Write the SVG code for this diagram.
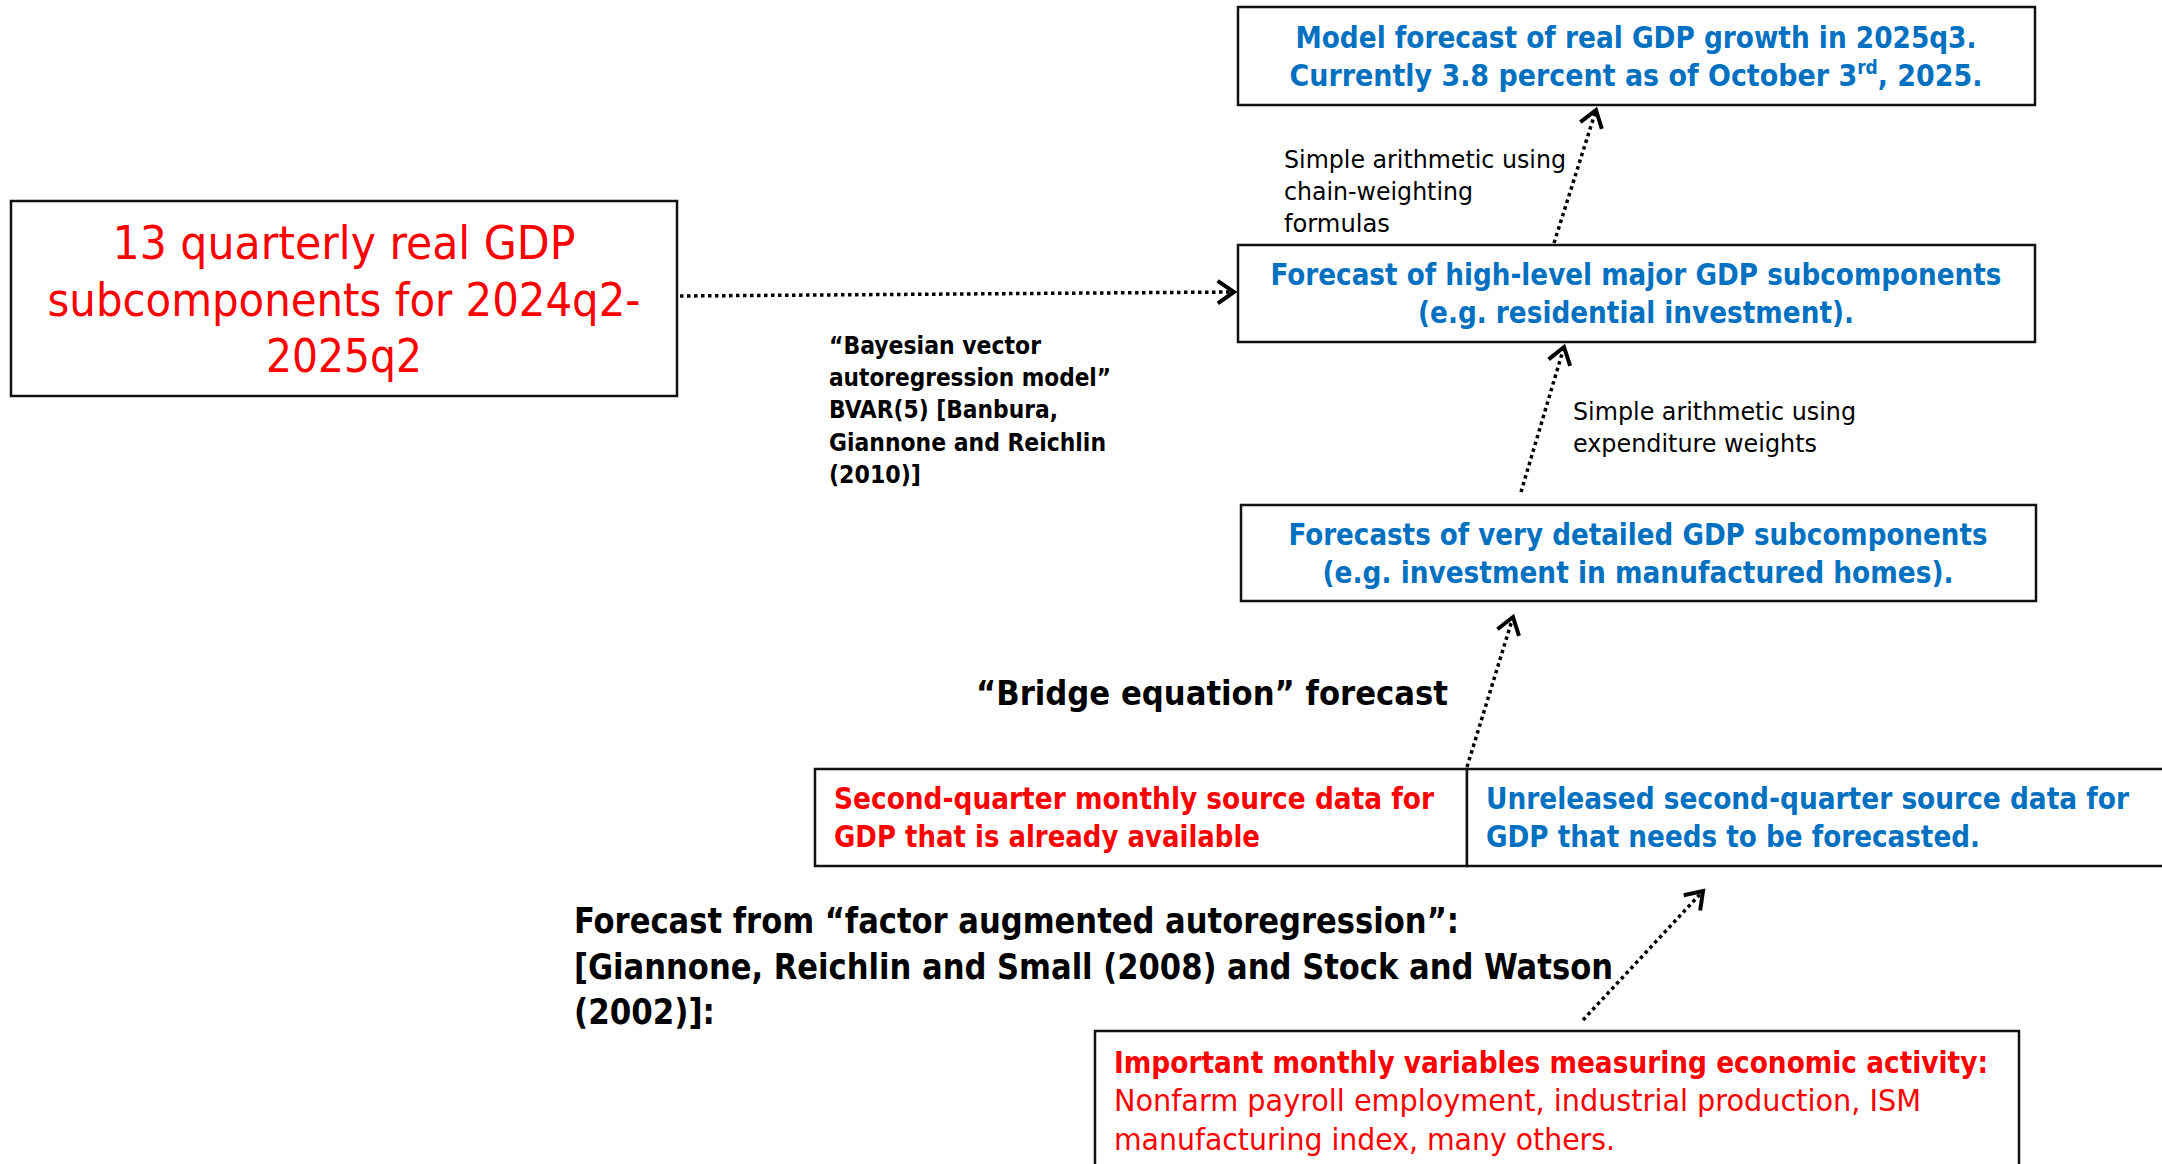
<svg xmlns="http://www.w3.org/2000/svg" width="2162" height="1164" viewBox="0 0 2162 1164">
<defs>
<marker id="arr" markerUnits="userSpaceOnUse" markerWidth="30" markerHeight="30" viewBox="-16 -12 20 24" refX="0" refY="0" orient="auto">
<path d="M-13,-9 L0,0 L-13,9" fill="none" stroke="#000" stroke-width="3.2" stroke-linejoin="miter"/>
</marker>
<style>
.box{fill:#fff;stroke:#111;stroke-width:2.5}
.t{font-family:'DejaVu Sans Condensed','DejaVu Sans',sans-serif;}
.b{font-weight:bold}
.blue{fill:#0070C0}
.red{fill:#FF0000}
.blk{fill:#000}
.c{text-anchor:middle}
.conn{fill:none;stroke:#000;stroke-width:3.5;stroke-dasharray:3.5 3.5;marker-end:url(#arr)}
</style>
</defs>
<rect width="2162" height="1164" fill="#fff"/>

<g id="connectors">
<path class="conn" d="M680,296 L1234,292"/>
<path class="conn" d="M1554,243 L1596,110"/>
<path class="conn" d="M1521,492 L1564,347"/>
<path class="conn" d="M1467,767 L1513,617"/>
<path class="conn" d="M1583,1020 L1703,891"/>
</g>

<g id="node-forecast-total">
<rect class="box" x="1238" y="7" width="797" height="98"/>
<text class="t b blue c" font-size="30" x="1636" y="48" textLength="681" lengthAdjust="spacingAndGlyphs">Model forecast of real GDP growth in 2025q3.</text>
<text class="t b blue c" font-size="30" x="1636" y="86" textLength="693" lengthAdjust="spacingAndGlyphs">Currently 3.8 percent as of October 3<tspan font-size="19" dy="-12">rd</tspan><tspan dy="12">, 2025.</tspan></text>
</g>

<g id="node-quarterly">
<rect class="box" x="11" y="201" width="666" height="195"/>
<text class="t red c" font-size="46" x="344" y="259" textLength="463" lengthAdjust="spacingAndGlyphs">13 quarterly real GDP</text>
<text class="t red c" font-size="46" x="344" y="316" textLength="593" lengthAdjust="spacingAndGlyphs">subcomponents for 2024q2-</text>
<text class="t red c" font-size="46" x="344" y="372" textLength="156" lengthAdjust="spacingAndGlyphs">2025q2</text>
</g>

<g id="node-highlevel">
<rect class="box" x="1238" y="245" width="797" height="97"/>
<text class="t b blue c" font-size="30" x="1636" y="285" textLength="731" lengthAdjust="spacingAndGlyphs">Forecast of high-level major GDP subcomponents</text>
<text class="t b blue c" font-size="30" x="1636" y="323" textLength="436" lengthAdjust="spacingAndGlyphs">(e.g. residential investment).</text>
</g>

<g id="node-detailed">
<rect class="box" x="1241" y="505" width="795" height="96"/>
<text class="t b blue c" font-size="30" x="1638" y="545" textLength="699" lengthAdjust="spacingAndGlyphs">Forecasts of very detailed GDP subcomponents</text>
<text class="t b blue c" font-size="30" x="1638" y="583" textLength="631" lengthAdjust="spacingAndGlyphs">(e.g. investment in manufactured homes).</text>
</g>

<g id="node-available">
<rect class="box" x="815" y="769" width="652" height="97"/>
<text class="t b red" font-size="30" x="834" y="809" textLength="600" lengthAdjust="spacingAndGlyphs">Second-quarter monthly source data for</text>
<text class="t b red" font-size="30" x="834" y="847" textLength="426" lengthAdjust="spacingAndGlyphs">GDP that is already available</text>
</g>

<g id="node-unreleased">
<rect class="box" x="1467" y="769" width="710" height="97"/>
<text class="t b blue" font-size="30" x="1486" y="809" textLength="643" lengthAdjust="spacingAndGlyphs">Unreleased second-quarter source data for</text>
<text class="t b blue" font-size="30" x="1486" y="847" textLength="494" lengthAdjust="spacingAndGlyphs">GDP that needs to be forecasted.</text>
</g>

<g id="node-monthly">
<rect class="box" x="1095" y="1031" width="924" height="150"/>
<text class="t b red" font-size="30" x="1114" y="1073" textLength="874" lengthAdjust="spacingAndGlyphs">Important monthly variables measuring economic activity:</text>
<text class="t red" font-size="30" x="1114" y="1111" textLength="807" lengthAdjust="spacingAndGlyphs">Nonfarm payroll employment, industrial production, ISM</text>
<text class="t red" font-size="30" x="1114" y="1150" textLength="501" lengthAdjust="spacingAndGlyphs">manufacturing index, many others.</text>
</g>

<g id="labels">
<text class="t blk" font-size="24" x="1284" y="168" textLength="282" lengthAdjust="spacingAndGlyphs">Simple arithmetic using</text>
<text class="t blk" font-size="24" x="1284" y="200" textLength="189" lengthAdjust="spacingAndGlyphs">chain-weighting</text>
<text class="t blk" font-size="24" x="1284" y="232" textLength="106" lengthAdjust="spacingAndGlyphs">formulas</text>

<text class="t blk" font-size="24" x="1573" y="420" textLength="283" lengthAdjust="spacingAndGlyphs">Simple arithmetic using</text>
<text class="t blk" font-size="24" x="1573" y="452" textLength="244" lengthAdjust="spacingAndGlyphs">expenditure weights</text>

<text class="t b blk" font-size="24" x="829" y="354" textLength="212" lengthAdjust="spacingAndGlyphs">“Bayesian vector</text>
<text class="t b blk" font-size="24" x="829" y="386" textLength="282" lengthAdjust="spacingAndGlyphs">autoregression model”</text>
<text class="t b blk" font-size="24" x="829" y="418" textLength="229" lengthAdjust="spacingAndGlyphs">BVAR(5) [Banbura,</text>
<text class="t b blk" font-size="24" x="829" y="451" textLength="277" lengthAdjust="spacingAndGlyphs">Giannone and Reichlin</text>
<text class="t b blk" font-size="24" x="829" y="483" textLength="92" lengthAdjust="spacingAndGlyphs">(2010)]</text>

<text class="t b blk" font-size="34" x="976" y="705" textLength="472" lengthAdjust="spacingAndGlyphs">“Bridge equation” forecast</text>

<text class="t b blk" font-size="36" x="574" y="933" textLength="885" lengthAdjust="spacingAndGlyphs">Forecast from “factor augmented autoregression”:</text>
<text class="t b blk" font-size="36" x="574" y="979" textLength="1039" lengthAdjust="spacingAndGlyphs">[Giannone, Reichlin and Small (2008) and Stock and Watson</text>
<text class="t b blk" font-size="36" x="574" y="1024" textLength="141" lengthAdjust="spacingAndGlyphs">(2002)]:</text>
</g>
</svg>
